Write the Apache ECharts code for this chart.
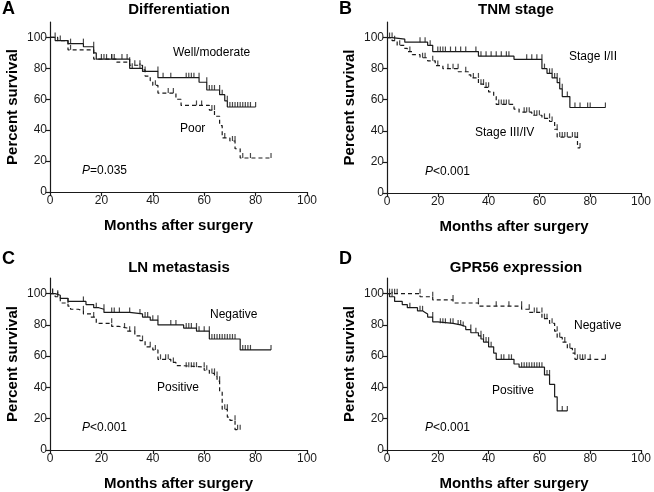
<!DOCTYPE html>
<html><head><meta charset="utf-8">
<script src="https://cdn.jsdelivr.net/npm/echarts@6/dist/echarts.min.js"></script>
<style>html,body{margin:0;padding:0;background:#fff}#c{width:654px;height:492px}</style>
</head><body><div id="c"></div>
<script>
// ---------- Data (event times, survival after event, censor times, last follow-up) ----------
var yTicks = [0, 20, 40, 60, 80, 100];
var xTicks = [0, 20, 40, 60, 80, 100];

// A: Differentiation
var aWellT = [2, 7, 13, 17, 18, 31, 36, 42, 58, 61, 66, 68, 69];
var aWellS = [98, 96, 94, 90, 86, 80, 78, 74, 71, 66, 63, 59, 55];
var aWellC = [2, 4, 8, 13, 17, 20, 22, 24, 25, 28, 30, 32, 35, 37, 42, 44, 47, 53, 54, 55, 56, 58, 61, 62, 63, 64, 66, 67, 69, 70, 71, 72, 73, 74, 75, 76, 77, 78, 80];
var aWellEnd = 80;
var aPoorT = [3, 7, 17, 26, 31, 36, 37, 39, 40, 42, 49, 51, 62, 64, 66, 67, 70, 72, 74];
var aPoorS = [98, 92, 86, 84, 82, 79, 75, 72, 69, 64, 60, 56, 53, 49, 43, 35, 33, 28, 22];
var aPoorC = [8, 21, 24, 31, 33, 35, 41, 46, 48, 57, 59, 63, 64, 68, 71, 72, 75, 78, 86];
var aPoorEnd = 86;

// B: TNM stage
var bEarlyT = [2, 7, 16, 18, 36, 50, 61, 63, 65, 67, 68, 69, 72];
var bEarlyS = [99, 97, 95, 91, 88, 86, 80, 77, 74, 71, 67, 62, 55];
var bEarlyC = [1, 2, 13, 15, 17, 20, 21, 22, 23, 25, 27, 29, 31, 35, 37, 39, 41, 43, 45, 47, 48, 55, 57, 59, 61, 62, 64, 65, 66, 67, 68, 69, 71, 74, 76, 79, 80, 86];
var bEarlyEnd = 86;
var bLateT = [2, 4, 7, 8, 10, 13, 16, 19, 22, 28, 32, 33, 36, 38, 40, 42, 43, 50, 52, 57, 61, 64, 66, 67, 75];
var bLateS = [98, 95, 93, 91, 89, 87, 85, 82, 80, 78, 76, 74, 70, 68, 65, 62, 57, 54, 52, 50, 48, 46, 41, 36, 29];
var bLateC = [3, 5, 9, 14, 15, 18, 20, 24, 26, 28, 31, 34, 36, 37, 38, 39, 40, 44, 45, 46, 47, 48, 54, 55, 56, 58, 59, 60, 62, 64, 65, 67, 68, 69, 70, 71, 73, 74, 75, 76];
var bLateEnd = 76;

// C: LN metastasis
var cNegT = [2, 4, 7, 14, 17, 19, 21, 31, 36, 39, 42, 52, 57, 62, 74];
var cNegS = [99, 97, 95, 93, 91, 90, 88, 87, 85, 83, 80, 78, 76, 71, 64];
var cNegC = [1, 3, 13, 18, 21, 24, 25, 27, 31, 35, 37, 38, 40, 42, 47, 49, 53, 54, 55, 57, 58, 60, 62, 63, 64, 65, 66, 67, 68, 69, 70, 71, 72, 75, 76, 77, 78, 86];
var cNegEnd = 86;
var cPosT = [2, 4, 7, 8, 11, 13, 16, 18, 24, 27, 30, 33, 35, 37, 40, 42, 47, 49, 51, 60, 62, 64, 65, 66, 67, 69, 70, 72];
var cPosS = [98, 94, 92, 90, 89, 87, 85, 81, 79, 78, 76, 73, 70, 66, 64, 58, 56, 54, 53, 51, 49, 47, 44, 37, 26, 21, 19, 13];
var cPosC = [1, 3, 7, 13, 17, 24, 29, 31, 33, 36, 39, 41, 43, 45, 46, 48, 53, 54, 55, 56, 57, 60, 61, 63, 64, 65, 66, 68, 69, 72, 73, 74];
var cPosEnd = 74;

// D: GPR56 expression
var dNegT = [13, 18, 26, 36, 53, 56, 61, 64, 66, 67, 69, 71, 73, 74];
var dNegS = [98, 96, 94, 92, 90, 88, 84, 81, 76, 72, 69, 65, 62, 58];
var dNegC = [2, 3, 4, 13, 18, 26, 36, 43, 48, 53, 56, 58, 59, 61, 62, 63, 65, 67, 68, 70, 72, 74, 75, 76, 77, 78, 80, 86];
var dNegEnd = 86;
var dPosT = [1, 3, 6, 8, 12, 14, 15, 16, 18, 20, 26, 29, 31, 33, 36, 37, 38, 40, 42, 43, 50, 52, 62, 64, 66, 67];
var dPosS = [98, 95, 93, 91, 89, 88, 87, 85, 82, 81, 80, 79, 77, 75, 73, 71, 69, 66, 62, 58, 55, 53, 48, 42, 34, 25];
var dPosC = [1, 2, 9, 13, 14, 18, 21, 22, 23, 25, 26, 28, 29, 30, 33, 35, 37, 38, 39, 40, 41, 45, 46, 48, 49, 53, 54, 55, 56, 57, 58, 59, 60, 61, 63, 64, 69, 71];
var dPosEnd = 71;

// ---------- Helpers ----------
function kmPath(T, S, end) {
  var pts = [[0, 100]], prev = 100;
  for (var i = 0; i < T.length; i++) {
    pts.push([T[i], prev]); pts.push([T[i], S[i]]); prev = S[i];
  }
  pts.push([end, prev]);
  return pts;
}
function survAt(T, S, t) {
  var v = 100;
  for (var i = 0; i < T.length; i++) { if (T[i] < t) v = S[i]; }
  return v;
}
function censPts(T, S, C) {
  return C.map(function (t) { return [t, survAt(T, S, t)]; });
}

var FONT = 'Liberation Sans, Arial, sans-serif';
var INK = '#1a1a1a';
var grids = [
  { left: 50, top: 22, width: 257, height: 170 },
  { left: 387, top: 22, width: 258, height: 171 },
  { left: 50, top: 278, width: 257, height: 173 },
  { left: 387, top: 278, width: 258, height: 173 }
];
var curves = [
  [{ T: aWellT, S: aWellS, C: aWellC, E: aWellEnd, dash: false }, { T: aPoorT, S: aPoorS, C: aPoorC, E: aPoorEnd, dash: true }],
  [{ T: bEarlyT, S: bEarlyS, C: bEarlyC, E: bEarlyEnd, dash: false }, { T: bLateT, S: bLateS, C: bLateC, E: bLateEnd, dash: true }],
  [{ T: cNegT, S: cNegS, C: cNegC, E: cNegEnd, dash: false }, { T: cPosT, S: cPosS, C: cPosC, E: cPosEnd, dash: true }],
  [{ T: dPosT, S: dPosS, C: dPosC, E: dPosEnd, dash: false }, { T: dNegT, S: dNegS, C: dNegC, E: dNegEnd, dash: true }]
];

var xAxes = [], yAxes = [], series = [];
grids.forEach(function (g, i) {
  xAxes.push({
    gridIndex: i, type: 'value', min: 0, max: 100, interval: 20,
    name: 'Months after surgery', nameLocation: 'middle', nameGap: 26,
    nameTextStyle: { fontFamily: FONT, fontWeight: 'bold', fontSize: 15, color: '#000' },
    axisLine: { show: true, lineStyle: { color: INK, width: 1.2 } },
    axisTick: { show: true, length: 4, lineStyle: { color: INK, width: 1.2 } },
    axisLabel: { fontFamily: FONT, fontSize: 12, color: INK, margin: 3 },
    splitLine: { show: false }
  });
  yAxes.push({
    gridIndex: i, type: 'value', min: 0, max: 110,
    name: 'Percent survival', nameLocation: 'middle', nameGap: 30,
    nameTextStyle: { fontFamily: FONT, fontWeight: 'bold', fontSize: 15, color: '#000' },
    axisLine: { show: true, lineStyle: { color: INK, width: 1.2 } },
    axisTick: { show: true, length: 4, lineStyle: { color: INK, width: 1.2 }, customValues: yTicks },
    axisLabel: { fontFamily: FONT, fontSize: 12, color: INK, margin: 3, customValues: yTicks },
    splitLine: { show: false }
  });
  curves[i].forEach(function (cv) {
    series.push({
      type: 'line', xAxisIndex: i, yAxisIndex: i, data: kmPath(cv.T, cv.S, cv.E),
      showSymbol: false, silent: true, animation: false,
      lineStyle: { color: INK, width: 1.2, type: cv.dash ? [4, 3] : 'solid' }
    });
    series.push({
      type: 'scatter', xAxisIndex: i, yAxisIndex: i, data: censPts(cv.T, cv.S, cv.C),
      symbol: 'rect', symbolSize: [1.2, 5], symbolOffset: [0, -2.5],
      itemStyle: { color: INK }, silent: true, animation: false
    });
  });
});

function txt(x, y, s, opt) {
  opt = opt || {};
  return {
    type: 'text', x: x, y: y, silent: true,
    style: {
      text: s, fontFamily: FONT, fontSize: opt.size || 12, fontWeight: opt.bold ? 'bold' : 'normal',
      fill: '#000', align: opt.align || 'left', verticalAlign: 'middle',
      rich: { i: { fontStyle: 'italic', fontFamily: FONT, fontSize: 12, fill: '#000' } }
    }
  };
}
var graphics = [
  txt(2, 9, 'A', { size: 18, bold: true }),
  txt(339, 9, 'B', { size: 18, bold: true }),
  txt(2, 259, 'C', { size: 18, bold: true }),
  txt(339, 259, 'D', { size: 18, bold: true }),
  txt(179, 10, 'Differentiation', { size: 15, bold: true, align: 'center' }),
  txt(516, 10, 'TNM stage', { size: 15, bold: true, align: 'center' }),
  txt(179, 268, 'LN metastasis', { size: 15, bold: true, align: 'center' }),
  txt(516, 268, 'GPR56 expression', { size: 15, bold: true, align: 'center' }),
  txt(173, 53, 'Well/moderate'),
  txt(180, 129, 'Poor'),
  txt(82, 171, '{i|P}=0.035'),
  txt(569, 57, 'Stage I/II'),
  txt(475, 133, 'Stage III/IV'),
  txt(425, 172, '{i|P}<0.001'),
  txt(210, 315, 'Negative'),
  txt(157, 388, 'Positive'),
  txt(82, 428, '{i|P}<0.001'),
  txt(574, 326, 'Negative'),
  txt(492, 391, 'Positive'),
  txt(425, 428, '{i|P}<0.001')
];

var chart = echarts.init(document.getElementById('c'), null, { renderer: 'canvas' });
chart.setOption({
  animation: false,
  backgroundColor: '#fff',
  grid: grids,
  xAxis: xAxes,
  yAxis: yAxes,
  series: series,
  graphic: graphics
});
</script></body></html>
